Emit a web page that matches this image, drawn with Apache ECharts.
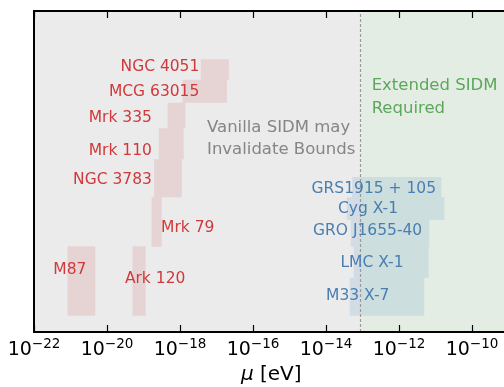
<!DOCTYPE html>
<html>
<head>
<meta charset="utf-8">
<script src="https://cdn.jsdelivr.net/npm/echarts@6/dist/echarts.min.js"></script>
<style>
  html, body { margin: 0; padding: 0; background: #fff; }
  #chart { width: 504px; height: 387px; }
</style>
</head>
<body>
<div id="chart"></div>
<script>
// x values are log10(mu / eV), y is just a row position inside the plot
const xMin = -22
const xMax = -9
const yMax = 32.1
const regionSplit = -13.05

// supermassive BHs (red)
const agnNames = ['NGC 4051', 'MCG 63015', 'Mrk 335', 'Mrk 110', 'NGC 3783', 'Mrk 79', 'M87', 'Ark 120']
const agnLo = [-17.43, -17.93, -18.34, -18.58, -18.71, -18.78, -21.08, -19.30]
const agnHi = [-16.66, -16.71, -17.85, -17.90, -17.95, -18.50, -20.32, -18.94]
const agnBottom = [25.23, 22.93, 20.37, 17.27, 13.47, 8.53, 1.63, 1.63]
const agnTop = [27.27, 25.23, 22.93, 20.37, 17.27, 13.47, 8.57, 8.57]
const agnLabelX = [-17.47, -17.47, -18.77, -18.77, -18.77, -18.52, -21.47, -19.51]
const agnLabelY = [26.53, 23.97, 21.37, 18.13, 15.2, 10.43, 6.2, 5.27]
const agnLabelSide = ['left', 'left', 'left', 'left', 'left', 'right', 'right', 'right']

// stellar BHs (blue)
const xrbNames = ['GRS1915 + 105', 'Cyg X-1', 'GRO J1655-40', 'LMC X-1', 'M33 X-7']
const xrbLo = [-13.28, -13.43, -13.32, -13.24, -13.35]
const xrbHi = [-10.84, -10.76, -11.17, -11.19, -11.31]
const xrbBottom = [13.47, 11.2, 8.53, 5.43, 1.63]
const xrbTop = [15.5, 13.47, 11.2, 8.53, 5.43]
const xrbLabelX = [-12.69, -12.85, -12.86, -12.74, -13.13]
const xrbLabelY = [14.3, 12.3, 10.1, 6.93, 3.63]

const tickValues = [-22, -20, -18, -16, -14, -12, -10]

const FONT = 'DejaVu Sans'
const RED = '#d0393b'
const BLUE = '#4a7eb0'

function boxRender(color) {
  return function (params, api) {
    const p0 = api.coord([api.value(0), api.value(3)])
    const p1 = api.coord([api.value(1), api.value(2)])
    return {
      type: 'rect',
      shape: { x: p0[0], y: p0[1], width: p1[0] - p0[0], height: p1[1] - p0[1] },
      style: { fill: color }
    }
  }
}

const agnBoxes = agnNames.map((n, i) => [agnLo[i], agnHi[i], agnBottom[i], agnTop[i]])
const xrbBoxes = xrbNames.map((n, i) => [xrbLo[i], xrbHi[i], xrbBottom[i], xrbTop[i]])

const agnLabels = agnNames.map((n, i) => ({
  name: n,
  value: [agnLabelX[i], agnLabelY[i]],
  label: { position: agnLabelSide[i] }
}))
const xrbLabels = xrbNames.map((n, i) => ({ name: n, value: [xrbLabelX[i], xrbLabelY[i]] }))

const chart = echarts.init(document.getElementById('chart'))

const option = {
  animation: false,
  textStyle: { fontFamily: FONT },
  grid: { left: 34, top: 11, width: 474.5, height: 321, outerBoundsMode: 'none' },
  xAxis: [
    {
      type: 'value',
      min: xMin,
      max: xMax,
      interval: 2,
      position: 'bottom',
      z: 10,
      axisLine: { lineStyle: { color: '#000', width: 2 } },
      axisTick: { inside: true, length: 7, lineStyle: { color: '#000', width: 1.2 } },
      splitLine: { show: false },
      axisLabel: {
        margin: 5,
        showMaxLabel: false,
        formatter: v => tickValues.includes(v) ? '{b|10}{s|−' + Math.abs(v) + '}' : '',
        rich: {
          b: { fontSize: 19, color: '#000', fontFamily: FONT },
          s: { fontSize: 13.5, color: '#000', fontFamily: FONT, padding: [0, 0, 12, 0] }
        }
      },
      name: '{i|μ} [eV]',
      nameLocation: 'middle',
      nameGap: 31,
      nameTextStyle: {
        rich: {
          i: { fontSize: 20, fontStyle: 'italic', color: '#000', fontFamily: FONT }
        },
        fontSize: 20,
        color: '#000',
        fontFamily: FONT
      }
    },
    {
      type: 'value',
      min: xMin,
      max: xMax,
      interval: 2,
      position: 'top',
      z: 10,
      axisLine: { lineStyle: { color: '#000', width: 2 } },
      axisTick: { inside: true, length: 7, lineStyle: { color: '#000', width: 1.2 } },
      splitLine: { show: false },
      axisLabel: { show: false }
    }
  ],
  yAxis: {
    type: 'value',
    min: 0,
    max: yMax,
    z: 10,
    axisLine: { show: true, lineStyle: { color: '#000', width: 2 } },
    axisTick: { show: false },
    axisLabel: { show: false },
    splitLine: { show: false }
  },
  series: [
    {
      // background regions + boundary
      type: 'line',
      data: [],
      z: 1,
      markArea: {
        silent: true,
        data: [
          [{ xAxis: xMin, itemStyle: { color: '#ebebeb' } }, { xAxis: regionSplit }],
          [{ xAxis: regionSplit, itemStyle: { color: '#e4ede4' } }, { xAxis: xMax }]
        ]
      },
      markLine: {
        silent: true,
        symbol: 'none',
        label: { show: false },
        lineStyle: { color: '#999', type: [3, 2], width: 1.2 },
        data: [{ xAxis: regionSplit }]
      }
    },
    {
      type: 'custom',
      renderItem: boxRender('rgba(200, 60, 70, 0.13)'),
      data: agnBoxes,
      z: 3
    },
    {
      type: 'custom',
      renderItem: boxRender('rgba(31, 119, 180, 0.12)'),
      data: xrbBoxes,
      z: 3
    },
    {
      type: 'scatter',
      symbolSize: 0,
      data: agnLabels,
      z: 5,
      itemStyle: { opacity: 1 },
      label: {
        show: true,
        formatter: '{b}',
        distance: 0,
        color: RED,
        opacity: 1,
        fontSize: 15.5,
        fontFamily: FONT
      }
    },
    {
      type: 'scatter',
      symbolSize: 0,
      data: xrbLabels,
      z: 5,
      itemStyle: { opacity: 1 },
      label: {
        show: true,
        position: 'inside',
        formatter: '{b}',
        color: BLUE,
        opacity: 1,
        fontSize: 15.5,
        fontFamily: FONT
      }
    },
    {
      type: 'scatter',
      symbolSize: 0,
      z: 5,
      itemStyle: { opacity: 1 },
      data: [
        { name: 'Vanilla SIDM may\nInvalidate Bounds', value: [-17.26, 19.32], label: { color: '#858585' } },
        { name: 'Extended SIDM\nRequired', value: [-12.75, 23.49], label: { color: '#5ca75c' } }
      ],
      label: {
        show: true,
        position: 'right',
        distance: 0,
        align: 'left',
        opacity: 1,
        formatter: '{b}',
        fontSize: 16.5,
        lineHeight: 22.3,
        fontFamily: FONT
      }
    }
  ]
}

chart.setOption(option)
</script>
</body>
</html>
